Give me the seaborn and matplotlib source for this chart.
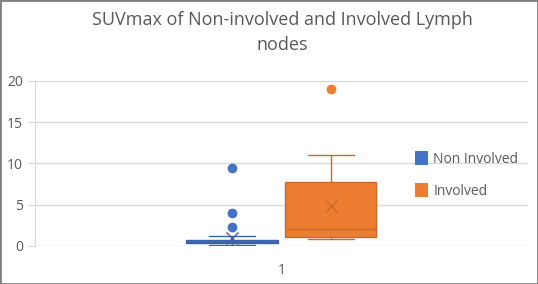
import pandas as pd
import numpy as np
import matplotlib
matplotlib.use("Agg")
import matplotlib.pyplot as plt
import seaborn as sns

# SUVmax values (hand-read so the box stats match the picture)
non_involved = [0.1, 0.1, 0.15, 0.2, 0.2, 0.2, 0.25, 0.3, 0.3, 0.3,
                0.35, 0.4, 0.4, 0.4, 0.45, 0.5, 0.5, 0.55, 0.6, 0.6,
                0.65, 0.65, 0.7, 0.7, 0.8, 0.9, 1.2, 2.3, 4.0, 9.5]
involved = [0.8, 0.9, 1.0, 1.05, 1.6, 1.9, 2.1, 3.0, 7.5, 8.5, 11.0, 19.0]
groups = ["Non Involved", "Involved"]
category = "1"
y_ticks = [0, 5, 10, 15, 20]

df = pd.DataFrame({
    "cat": [category] * (len(non_involved) + len(involved)),
    "group": [groups[0]] * len(non_involved) + [groups[1]] * len(involved),
    "suv": non_involved + involved,
})

fill = {"Non Involved": "#4472C4", "Involved": "#ED7D31"}
edge = {"Non Involved": "#3A62AA", "Involved": "#C9692A"}

sns.set_style("white")
plt.rcParams["font.family"] = ["Open Sans", "DejaVu Sans"]

fig = plt.figure(figsize=(5.38, 2.84), dpi=100)
ax = fig.add_axes([0.065, 0.134, 0.916, 0.581])

sns.boxplot(data=df, x="cat", y="suv", hue="group", hue_order=groups,
            palette=fill, width=0.40, gap=0.07, linewidth=1.0,
            showmeans=True, saturation=1,
            meanprops=dict(marker="x", markersize=9, markeredgewidth=1.0),
            flierprops=dict(marker="o", markersize=6),
            ax=ax, legend=False)

# recolour each group's box parts like Excel does
for cont, g in zip(ax.containers, groups):
    for b in cont.boxes:
        b.set_facecolor(fill[g])
        b.set_edgecolor(edge[g])
    for ln in list(cont.whiskers) + list(cont.caps) + list(cont.medians):
        ln.set_color(edge[g])
    for ln in cont.means:
        ln.set_markeredgecolor(edge[g])
        ln.set_markerfacecolor(edge[g])
    for ln in cont.fliers:
        ln.set_markerfacecolor(fill[g])
        ln.set_markeredgecolor(fill[g])

ax.set_ylim(0, 20)
ax.set_xlim(-0.5, 0.5)
ax.set_yticks(y_ticks)
ax.yaxis.grid(True, color="#D9D9D9", linewidth=1)
ax.set_axisbelow(True)
for s in ["top", "right", "bottom"]:
    ax.spines[s].set_visible(False)
ax.spines["left"].set_color("#D9D9D9")
ax.tick_params(axis="y", colors="#D9D9D9", labelcolor="#595959", length=5,
               labelsize=10, direction="out", left=True)
ax.tick_params(axis="x", length=0, labelcolor="#595959", labelsize=10, pad=12)
ax.set_xlabel("")
ax.set_ylabel("")

handles = [plt.Rectangle((0, 0), 1, 1, facecolor=fill[g], edgecolor="none") for g in groups]
ax.legend(handles, groups, loc="center left", bbox_to_anchor=(0.745, 0.43),
          frameon=False, fontsize=10, labelcolor="#595959", handlelength=0.95,
          handleheight=1.1, labelspacing=1.2, handletextpad=0.4)

fig.text(0.525, 0.96, "SUVmax of Non-involved and Involved Lymph\nnodes",
         ha="center", va="top", fontsize=13, color="#595959", linespacing=1.5)

fig.patches.append(plt.Rectangle((0, 0), 1, 1, transform=fig.transFigure,
                                 fill=False, edgecolor="#7F7F7F", linewidth=2))

fig.savefig("out.png", dpi=100)
